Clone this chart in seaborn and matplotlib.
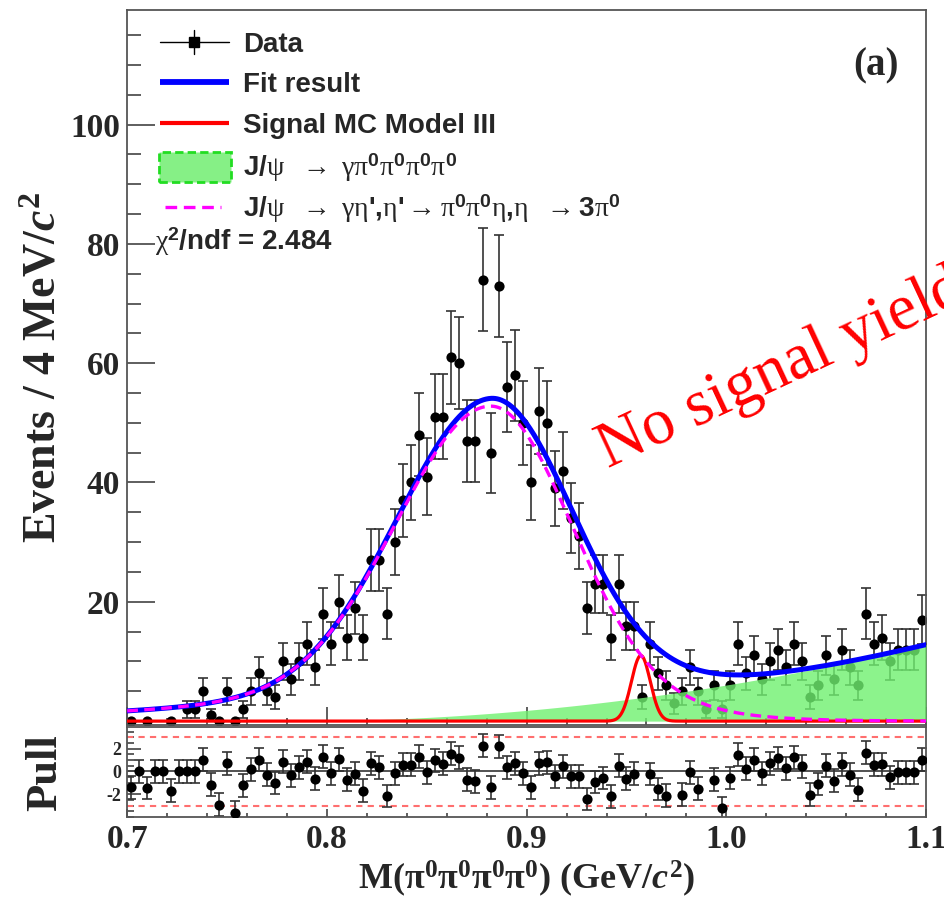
import numpy as np
import matplotlib
matplotlib.use("Agg")
import matplotlib.pyplot as plt
from matplotlib.lines import Line2D
from matplotlib.patches import Rectangle
from matplotlib.ticker import MultipleLocator
import seaborn as sns

nan = np.nan

# ---- binning of the M(4pi0) spectrum ----
bin_lo = 0.700
bin_width = 0.004
n_bins = 100

# events per 4 MeV/c^2 bin (nan = bin not drawn)
counts = [0, nan, 0, nan, nan, 0, nan, 2, 2, 5,
          1, 0, 5, 0, 2, 5, 8, 5, 4, 10,
          7, 10, 13, 9, 18, 13, 20, 14, 19, 14,
          27, 27, 18, 30, 37, 40, 48, 41, 51, 51,
          61, 60, 47, 47, 74, 45, 73, 56, 58, 50,
          40, 52, 50, 39, 42, 34, 31, 19, 23, 23,
          14, 23, 16, 16, 4, 13, 8, 6, 3, 5,
          9, 5, 2, 6, 2, 6, 13, 8, 11, 7,
          10, 12, 9, 13, 10, 4, 6, 11, 7, 12,
          9, 6, 18, 13, 14, 10, 12, 12, 12, 17]

# pull per bin (nan = off scale)
pulls = [-1.40, 0.00, -1.46, 0.00, 0.00, -1.69, 0.00, 0.00, 0.00, 1.02,
         -1.17, -2.92, 0.70, -3.62, -1.22, 0.20, 1.02, -0.29, -1.02, 0.87,
         -0.35, 0.35, 0.87, -0.64, 1.31, -0.15, 1.08, -0.73, -0.20, -1.69,
         0.73, 0.35, -2.16, -0.15, 0.58, 0.58, 1.31, -0.09, 0.96, 0.67,
         1.55, 1.22, -0.73, -0.87, 2.27, -1.40, 2.19, 0.35, 0.73, -0.15,
         -1.40, 0.73, 0.79, -0.44, 0.44, -0.44, -0.44, -2.42, -0.93, -0.58,
         -2.19, 0.50, -0.64, -0.20, nan, -0.23, -1.55, -2.13, nan, -2.04,
         -0.09, -1.52, nan, -0.73, -3.21, -0.58, 1.46, 0.23, 1.02, -0.15,
         0.73, 1.17, 0.29, 1.25, 0.44, -2.04, -1.11, 0.52, -0.82, 0.64,
         -0.29, -1.60, 1.66, 0.58, 0.64, -0.52, -0.06, -0.06, -0.06, 1.02]

# ---- fit components ----
# eta' -> pi0 pi0 eta peak: bifurcated double Gaussian
peak_mean = 0.882
peak_core_left = (48.3, 0.047)     # amplitude, sigma
peak_tail_left = (4.5, 0.130)
peak_core_right = (46.8, 0.040)
peak_tail_right = (6.0, 0.065)
# J/psi -> gamma 4pi0 background: quadratic above threshold
bkg_threshold = 0.78
bkg_coeff = 125.0
# signal MC shape (model III)
sig_mean = 0.9572
sig_sigma = 0.0047
sig_height = 11.0
chi2_ndf = 2.484

# ---- texts ----
y_ticks = [20, 40, 60, 80, 100]
y_tick_labels = ["20", "40", "60", "80", "100"]
x_ticks = [0.7, 0.8, 0.9, 1.0, 1.1]
x_tick_labels = ["0.7", "0.8", "0.9", "1.0", "1.1"]
pull_ticks = [-2, 0, 2]
pull_tick_labels = ["-2", "0", "2"]
legend_labels = [
    "Data",
    "Fit result",
    "Signal MC Model III",
    r"J/$\psi\ \ \rightarrow\ \gamma\pi^{\mathsf{0}}\pi^{\mathsf{0}}\pi^{\mathsf{0}}\pi^{\mathsf{0}}$",
    r"J/$\psi\ \ \rightarrow\ \gamma\eta$',$\eta$'$\rightarrow\pi^{\mathsf{0}}\pi^{\mathsf{0}}\eta$,$\eta\ \ \rightarrow$3$\pi^{\mathsf{0}}$",
]
chi2_text = r"$\chi^{\mathsf{2}}$/ndf = " + f"{chi2_ndf:.3f}"
ylabel = r"Events / 4 MeV/$\mathit{c}^{\mathbf{2}}$"
xlabel = r"M($\mathbf{\pi^{0}\pi^{0}\pi^{0}\pi^{0}}$) (GeV/$\mathit{c}^{\mathbf{2}}$)"
pull_label = "Pull"
panel_tag = "(a)"
note = "No signal yield"

# ---- style ----
sns.set_style("ticks")
plt.rcParams.update({
    "font.family": ["Liberation Serif", "DejaVu Serif"],
    "mathtext.fontset": "custom",
    "mathtext.rm": "Liberation Serif",
    "mathtext.it": "Liberation Serif:italic:bold",
    "mathtext.bf": "Liberation Serif:bold",
    "mathtext.sf": "Liberation Sans:bold",
    "mathtext.default": "rm",
    "axes.unicode_minus": False,
})

W, H = 945, 900
fx = lambda px: px / W
fy = lambda py: 1 - py / H

fig = plt.figure(figsize=(9.45, 9.0), dpi=100)
ax = fig.add_axes([fx(127.3), fy(725), (926 - 127.3) / W, 715 / H])
axp = fig.add_axes([fx(127.3), fy(817), (926 - 127.3) / W, 90 / H])

x_c = bin_lo + bin_width * (np.arange(n_bins) + 0.5)
cnt = np.array(counts, dtype=float)
pll = np.array(pulls, dtype=float)

grid = np.linspace(bin_lo, bin_lo + n_bins * bin_width, 1201)


def bifurcated(x):
    d = x - peak_mean
    left = d < 0
    a1 = np.where(left, peak_core_left[0], peak_core_right[0])
    s1 = np.where(left, peak_core_left[1], peak_core_right[1])
    a2 = np.where(left, peak_tail_left[0], peak_tail_right[0])
    s2 = np.where(left, peak_tail_left[1], peak_tail_right[1])
    return a1 * np.exp(-0.5 * (d / s1) ** 2) + a2 * np.exp(-0.5 * (d / s2) ** 2)


peak = bifurcated(grid)
bkg = np.where(grid > bkg_threshold, bkg_coeff * (grid - bkg_threshold) ** 2, 0.0)
sig = sig_height * np.exp(-0.5 * ((grid - sig_mean) / sig_sigma) ** 2)
fit = peak + bkg

MARKER_AREA = 54

# ---- main panel ----
ok = ~np.isnan(cnt)
ax.errorbar(x_c[ok], cnt[ok], yerr=np.sqrt(cnt[ok]), fmt="none", ecolor="#333333",
            elinewidth=1.2, capsize=3.5, capthick=1.2, zorder=2)
sns.scatterplot(x=x_c[ok], y=cnt[ok], ax=ax, color="black", s=MARKER_AREA, linewidth=0,
                zorder=2.5, legend=False)
ax.fill_between(grid, 0, bkg, color="#70f070", alpha=0.8, lw=0, zorder=3)
sns.lineplot(x=grid, y=fit, ax=ax, color="#0000ff", lw=3.6, estimator=None,
             sort=False, zorder=4)
sns.lineplot(x=grid, y=sig, ax=ax, color="#ff0000", lw=2.3, estimator=None,
             sort=False, zorder=5)
sns.lineplot(x=grid, y=peak, ax=ax, color="#ff00ff", lw=2.4, estimator=None,
             sort=False, zorder=6, linestyle=(0, (3.2, 1.9)))

ax.set_xlim(0.7, 1.1)
ax.set_ylim(-0.65, 119.2)
ax.set_yticks(y_ticks, labels=y_tick_labels, fontsize=24, fontweight="bold",
              fontfamily="Liberation Serif")
ax.yaxis.set_minor_locator(MultipleLocator(5))
ax.set_xticks(x_ticks)
ax.xaxis.set_minor_locator(MultipleLocator(0.02))
ax.tick_params(axis="y", which="major", direction="in", length=20, width=1.1,
               color="#333333", pad=5, right=False)
ax.tick_params(axis="y", which="minor", direction="in", length=10, width=1.1,
               color="#333333", right=False)
ax.tick_params(axis="x", which="major", direction="in", length=13, width=1.1,
               color="#333333", labelbottom=False, top=False)
ax.tick_params(axis="x", which="minor", direction="in", length=5, width=1.1,
               color="#333333", top=False)
ax.set_xlabel("")
ax.set_ylabel("")

# ---- pull panel ----
okp = ~np.isnan(pll)
axp.axhline(0, color="#444444", lw=1.3, zorder=1)
for lvl in (3, -3):
    axp.axhline(lvl, color="#ff6f6f", lw=1.5, ls=(0, (3, 2.5)), zorder=1)
axp.errorbar(x_c[okp], pll[okp], yerr=1.0, fmt="none", ecolor="#333333",
             elinewidth=1.2, capsize=3.5, capthick=1.2, zorder=2)
sns.scatterplot(x=x_c[okp], y=pll[okp], ax=axp, color="black", s=MARKER_AREA,
                linewidth=0, zorder=3, legend=False)
axp.set_xlim(0.7, 1.1)
axp.set_ylim(-4.0, 3.9)
axp.set_yticks(pull_ticks, labels=pull_tick_labels, fontsize=13, fontweight="bold",
               fontfamily="Liberation Serif")
axp.yaxis.set_minor_locator(MultipleLocator(0.5))
axp.set_xticks(x_ticks, labels=x_tick_labels, fontsize=24, fontweight="bold",
               fontfamily="Liberation Serif")
axp.xaxis.set_minor_locator(MultipleLocator(0.02))
axp.tick_params(axis="y", which="major", direction="in", length=10, width=1.1,
                color="#333333", pad=4)
axp.tick_params(axis="y", which="minor", direction="in", length=5, width=1.1,
                color="#333333")
axp.tick_params(axis="x", which="major", direction="in", length=6, width=1.1,
                color="#333333", pad=5)
axp.tick_params(axis="x", which="minor", direction="in", length=3, width=1.1,
                color="#333333")
axp.set_xlabel("")
axp.set_ylabel("")

for a in (ax, axp):
    for sp in a.spines.values():
        sp.set_visible(True)
        sp.set_color("#555555")
        sp.set_linewidth(1.3)

# ---- axis titles ----
fig.text(fx(45), fy(367), ylabel, rotation=90, ha="center", va="center",
         fontsize=33, fontweight="bold", family="Liberation Serif")
fig.text(fx(45), fy(773), pull_label, rotation=90, ha="center", va="center",
         fontsize=32, fontweight="bold", family="Liberation Serif")
fig.text(fx(527), fy(879), xlabel, ha="center", va="center",
         fontsize=26, fontweight="bold", family="Liberation Serif")
fig.text(fx(876), fy(66), panel_tag, ha="center", va="center",
         fontsize=28, fontweight="bold", family="Liberation Serif")

# ---- legend ----
rows = [41.5, 82, 123, 166, 207]
hx0, hx1 = 160, 229
hxm = 0.5 * (hx0 + hx1)
# data
fig.add_artist(Line2D([fx(hx0), fx(hx1)], [fy(rows[0])] * 2, color="black", lw=1.0))
fig.add_artist(Line2D([fx(hxm)] * 2, [fy(rows[0] - 12), fy(rows[0] + 12)],
                      color="black", lw=1.0))
fig.add_artist(Line2D([fx(hxm)], [fy(rows[0])], marker="s", ms=7, color="black", lw=0))
# fit result
fig.add_artist(Line2D([fx(hx0), fx(hx1)], [fy(rows[1])] * 2, color="#0000ff", lw=4.2,
                      solid_capstyle="butt"))
# signal MC
fig.add_artist(Line2D([fx(hx0), fx(hx1)], [fy(rows[2])] * 2, color="#ff0000", lw=3.0,
                      solid_capstyle="butt"))
# 4pi0 background box
fig.add_artist(Rectangle((fx(158.7), fy(181.7)), (231 - 158.7) / W, 30 / H,
                         facecolor="#86f086", edgecolor="#22dd22", lw=2.0, ls=(0, (3, 1.5)),
                         transform=fig.transFigure))
# eta' component
fig.add_artist(Line2D([fx(165), fx(221)], [fy(rows[4])] * 2, color="#ff00ff", lw=2.4,
                      ls=(0, (3.5, 2.0))))

for lab, r in zip(legend_labels, rows):
    fig.text(fx(243), fy(r + 10), lab, ha="left", va="baseline", fontsize=20,
             fontweight="bold", family="Liberation Sans")
fig.text(fx(155), fy(250), chi2_text, ha="left", va="baseline", fontsize=20,
         fontweight="bold", family="Liberation Sans")

# ---- annotation (runs off the right edge) ----
fig.text(fx(608), fy(468), note, rotation=25, rotation_mode="anchor", ha="left",
         va="baseline", fontsize=47, color="#ff0000", family="Liberation Serif")

fig.savefig("out.png", dpi=100)
